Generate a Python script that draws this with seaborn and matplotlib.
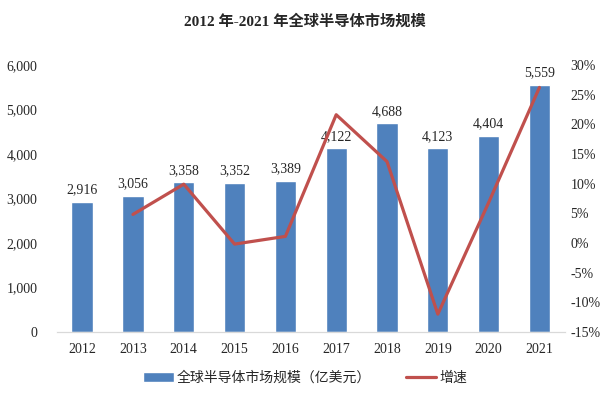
import numpy as np
import pandas as pd
import matplotlib
matplotlib.use("Agg")
import matplotlib.pyplot as plt
import seaborn as sns
from matplotlib.ticker import FuncFormatter

# data
years = ["2012", "2013", "2014", "2015", "2016", "2017", "2018", "2019", "2020", "2021"]
market_size = [2916, 3056, 3358, 3352, 3389, 4122, 4688, 4123, 4404, 5559]
growth_years = ["2013", "2014", "2015", "2016", "2017", "2018", "2019", "2020", "2021"]
growth_rate = [4.8, 9.9, -0.2, 1.1, 21.6, 13.7, -12.0, 6.8, 26.2]

bar_color = "#4F81BD"
line_color = "#C0504D"

sns.set_style("white")
plt.rcParams["font.family"] = ["Liberation Serif", "Noto Sans CJK SC"]
cjk = ["Noto Sans CJK SC", "DejaVu Sans"]

fig = plt.figure(figsize=(6.1, 3.98), dpi=100)
ax = fig.add_axes([0.093, 0.166, 0.833, 0.671])

df = pd.DataFrame({"year": years, "size": market_size})
sns.barplot(data=df, x="year", y="size", color=bar_color, width=0.42,
            saturation=1, ax=ax, label="全球半导体市场规模（亿美元）")

for i, v in enumerate(market_size):
    ax.annotate(f"{v:,}", (i, v), xytext=(0, 4), textcoords="offset points",
                ha="center", va="bottom", fontsize=10)

ax.set_ylim(0, 6000)
ax.set_yticks(range(0, 6001, 1000))
ax.yaxis.set_major_formatter(FuncFormatter(lambda v, p: f"{int(v):,}"))
ax.set_xlim(-0.5, len(years) - 0.5)
ax.set_xlabel("")
ax.set_ylabel("")
ax.tick_params(axis="both", length=0, labelsize=10)
ax.tick_params(axis="y", pad=14)
ax.tick_params(axis="x", pad=8)

# growth line on secondary axis
ax2 = ax.twinx()
gdf = pd.DataFrame({"pos": [years.index(y) for y in growth_years], "rate": growth_rate})
sns.lineplot(data=gdf, x="pos", y="rate", color=line_color, linewidth=2.3,
             ax=ax2, label="增速")
ax2.set_ylim(-15, 30)
ax2.set_yticks(range(-15, 31, 5))
ax2.yaxis.set_major_formatter(FuncFormatter(lambda v, p: f"{int(v)}%"))
ax2.set_ylabel("")
ax2.set_xlim(-0.5, len(years) - 0.5)
ax2.tick_params(axis="y", length=0, labelsize=10, pad=4)
ax2.get_legend().remove()

for a in (ax, ax2):
    for s in ["top", "left", "right"]:
        a.spines[s].set_visible(False)
    a.spines["bottom"].set_color("#d9d9d9")

# legend below
h1, l1 = ax.get_legend_handles_labels()
h2, l2 = ax2.get_legend_handles_labels()
if ax.get_legend() is not None:
    ax.get_legend().remove()
fig.legend(h1 + h2, l1 + l2, loc="center", bbox_to_anchor=(0.5, 0.05), ncol=2,
           frameon=False, prop={"family": cjk, "size": 10}, handlelength=2.2,
           columnspacing=2.5, handletextpad=0.2)

fig.text(0.5, 0.945, "2012 年-2021 年全球半导体市场规模", ha="center", va="center",
         fontsize=11, fontweight="bold", family=["Liberation Serif", "Noto Sans CJK SC"])

fig.savefig("out.png", dpi=100)
